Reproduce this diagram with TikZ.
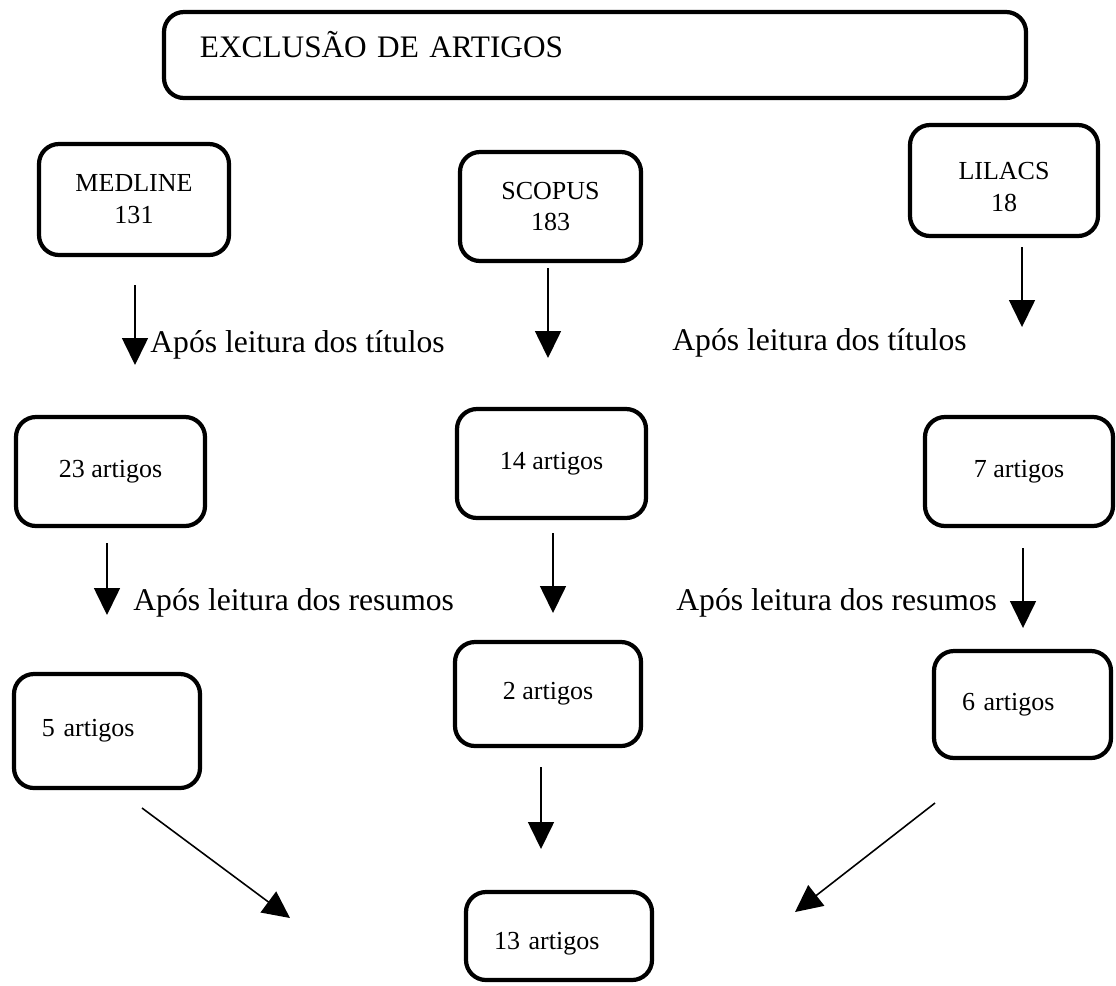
\documentclass[tikz,border=0pt]{standalone}
\usepackage{fontspec}
\setmainfont{Liberation Serif}
\usetikzlibrary{arrows.meta,positioning}

\tikzset{
  caixa/.style={draw, line width=2.4pt, rounded corners=4mm, align=center,
    inner sep=0pt, font=\fontsize{14.8}{18.2}\selectfont},
  caixaesq/.style={caixa, align=left, inner xsep=5.6mm, text width=#1},
  seta/.style={line width=0.9pt, -{Triangle[length=5.4mm,width=5.2mm]}},
  rotulo/.style={anchor=base west, inner sep=0pt, font=\fontsize{18}{22}\selectfont}
}

\begin{document}
\begin{tikzpicture}[x=0.2mm, y=-0.2mm]
    \useasboundingbox (0,0) rectangle (1116,985);
    % titulo
    \node[caixa, align=left, minimum width=172.4mm, minimum height=17.2mm,
      text width=158mm, inner xsep=7.2mm, text height=4.8mm, text depth=4mm,
      font=\fontsize{17.8}{22}\selectfont] (titulo) at (595,55) {EXCLUSÃO DE ARTIGOS};
    % bases
    \node[caixa, minimum width=38mm, minimum height=22.2mm] (medline) at (134,199.5) {MEDLINE\\131};
    \node[caixa, minimum width=36.2mm, minimum height=21.8mm] (scopus) at (550.5,206.5) {SCOPUS\\183};
    \node[caixa, minimum width=37.6mm, minimum height=22.2mm] (lilacs) at (1004,180.5) {\rule{0pt}{17pt}LILACS\\18};
    % apos titulos
    \node[caixa, minimum width=37.8mm, minimum height=21.8mm] (medtit) at (110.5,471.5) {23 artigos};
    \node[caixa, minimum width=37.8mm, minimum height=21.8mm] (scotit) at (551.5,463.5) {14 artigos};
    \node[caixa, minimum width=37.6mm, minimum height=21.8mm] (liltit) at (1019,471.5) {7 artigos};
    % apos resumos
    \node[caixaesq=26mm, minimum height=22.8mm] (medres) at (107,731) {5 artigos};
    \node[caixa, minimum width=37.2mm, minimum height=20.8mm] (scores) at (548,694) {2 artigos};
    \node[caixaesq=24.2mm, minimum height=21.4mm] (lilres) at (1022.5,704.5) {6 artigos};
    \node[caixaesq=26mm, minimum height=17.6mm] (final) at (559,936) {\rule{0pt}{19pt}13 artigos};

    % setas
    \coordinate (m1a) at (135,285);  \coordinate (m1b) at (135,365);
    \coordinate (s1a) at (548,268);  \coordinate (s1b) at (548,358);
    \coordinate (l1a) at (1022,247); \coordinate (l1b) at (1022,327);
    \coordinate (m2a) at (107,543);  \coordinate (m2b) at (107,615);
    \coordinate (s2a) at (553,533);  \coordinate (s2b) at (553,613);
    \coordinate (l2a) at (1023,548); \coordinate (l2b) at (1023,628);
    \coordinate (s3a) at (541,767);  \coordinate (s3b) at (541,849);
    \coordinate (m3a) at (142,808);  \coordinate (m3b) at (290,918);
    \coordinate (l3a) at (935,803);  \coordinate (l3b) at (795,912);
    \draw[seta] (m1a) -- (m1b);
    \draw[seta] (s1a) -- (s1b);
    \draw[seta] (l1a) -- (l1b);
    \draw[seta] (m2a) -- (m2b);
    \draw[seta] (s2a) -- (s2b);
    \draw[seta] (l2a) -- (l2b);
    \draw[seta] (s3a) -- (s3b);
    \draw[seta] (m3a) -- (m3b);
    \draw[seta] (l3a) -- (l3b);

    % rotulos
    \node[rotulo] (titesq) at (150,352) {Após leitura dos títulos};
    \node[rotulo] (titdir) at (672,350) {Após leitura dos títulos};
    \node[rotulo] (resesq) at (133,610) {Após leitura dos resumos};
    \node[rotulo] (resdir) at (676,610) {Após leitura dos resumos};
\end{tikzpicture}
\end{document}
